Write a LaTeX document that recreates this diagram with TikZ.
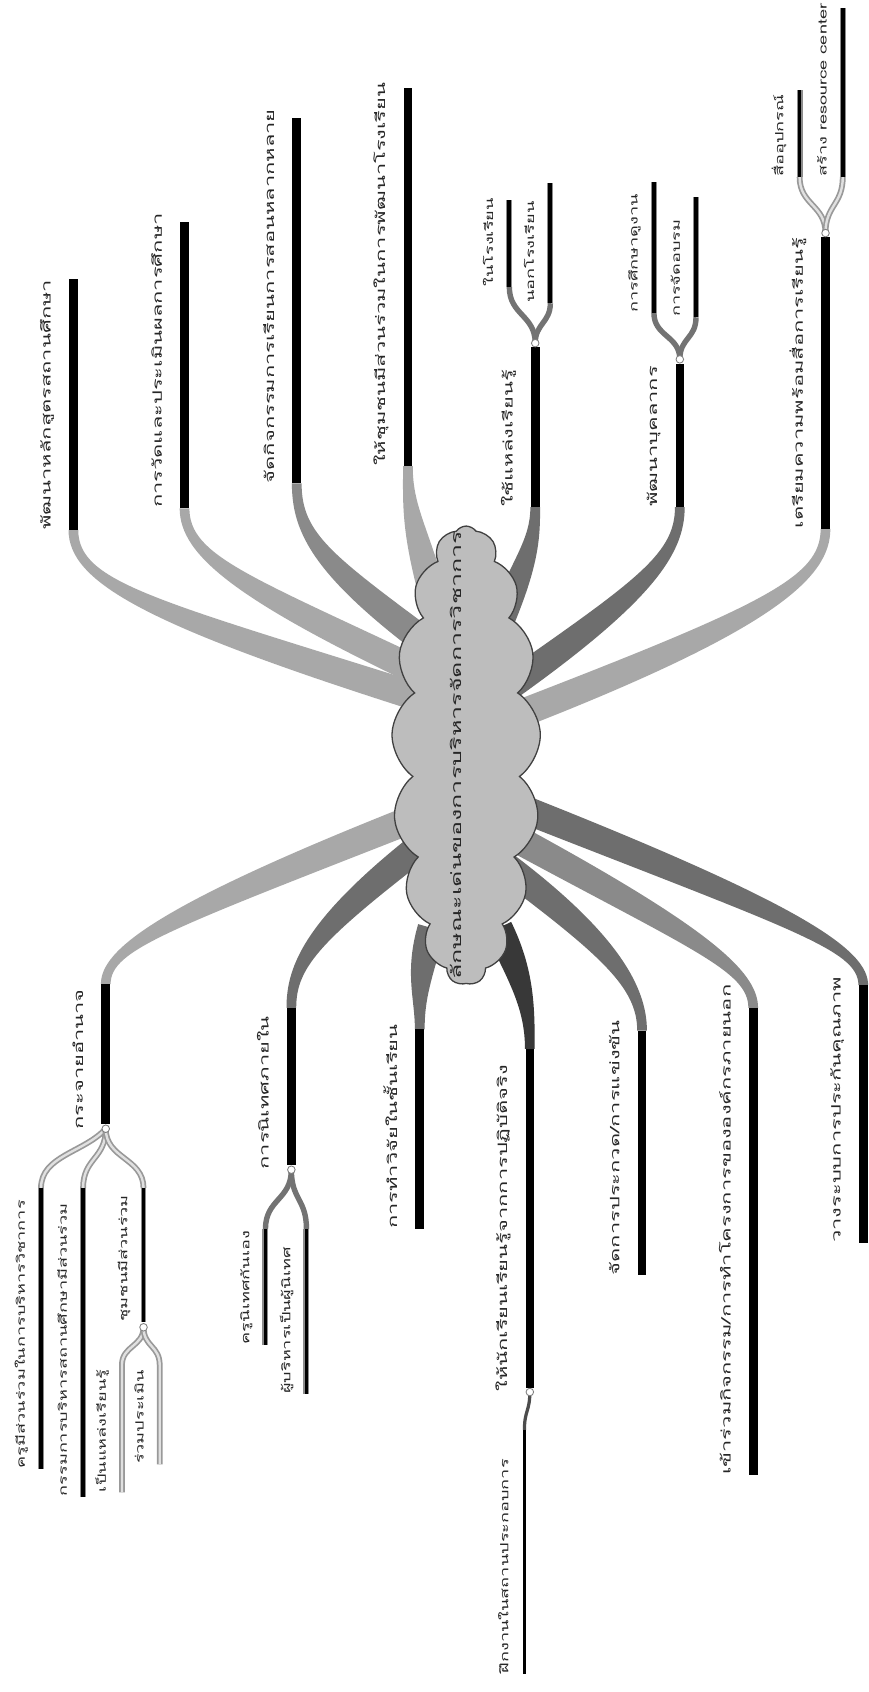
\documentclass[tikz,border=0pt]{standalone}
\usepackage{fontspec}
\newfontfamily\thaifont[Script=Thai]{Loma}
\usetikzlibrary{calc,shapes.symbols}

\definecolor{bandlight}{gray}{0.66}
\definecolor{bandmid}{gray}{0.54}
\definecolor{banddark}{gray}{0.43}
\definecolor{bandblack}{gray}{0.22}
\definecolor{cloudfill}{gray}{0.74}

% tapered band: bar end, control at bar, control at cloud, end in cloud, half width at bar
\newcommand{\branchband}[6]{%
  \fill[#1] ($(#2)+(#6,0)$) .. controls ($#3+(#6,0)$) and ($#4!13pt!90:(#5)$) .. ($(#5)!13pt!-90:#4$)
    -- ($(#5)!13pt!90:#4$) .. controls ($#4!13pt!-90:(#5)$) and ($#3-(#6,0)$) .. ($(#2)-(#6,0)$) -- cycle;}

\begin{document}
\begin{tikzpicture}[x=1pt, y=-1pt]
  \tikzset{
    bar/.style={line width=8pt},
    twig/.style={line width=3.5pt, preaction={draw=black!45, line width=5.5pt}},
    fork/.style={draw=black!55, line width=5pt},
    forklight/.style={draw=black!40, line width=1.6pt, double=black!12, double distance=2.2pt},
    knot/.style={circle, fill=white, draw=black!50, line width=0.8pt, inner sep=0pt, minimum size=7pt},
    lbl/.style={font=\thaifont\fontsize{12}{14}\selectfont, text=black!85, inner sep=0pt, rotate=90, xscale=1.69, anchor=base west},
    sublbl/.style={font=\thaifont\fontsize{10.5}{12}\selectfont, text=black!85, inner sep=0pt, rotate=90, xscale=1.6, anchor=base west},
    titlelbl/.style={font=\thaifont\fontsize{13}{15}\selectfont, text=black!85, inner sep=0pt, rotate=90, xscale=1.79, anchor=base}
  }

  \fill[white] (0,0) rectangle (805,1568);
  \useasboundingbox (0,0) rectangle (805,1568);

  % bar ends next to the cloud, and points inside the cloud
  \coordinate (b1) at (68,491);   \coordinate (k1) at (400,650);
  \coordinate (b2) at (171,471);  \coordinate (k2) at (400,628);
  \coordinate (b3) at (275,448);  \coordinate (k3) at (405,603);
  \coordinate (b4) at (378,432);  \coordinate (k4) at (405,565);
  \coordinate (b5) at (496,470);  \coordinate (k5) at (455,595);
  \coordinate (b6) at (630,470);  \coordinate (k6) at (455,648);
  \coordinate (b7) at (765,490);  \coordinate (k7) at (460,670);
  \coordinate (b8) at (98,912);   \coordinate (k8) at (400,752);
  \coordinate (b9) at (270,934);  \coordinate (k9) at (405,772);
  \coordinate (b10) at (389,954); \coordinate (k10) at (400,860);
  \coordinate (b11) at (491,972); \coordinate (k11) at (462,860);
  \coordinate (b12) at (595,955); \coordinate (k12) at (465,800);
  \coordinate (b13) at (698,934); \coordinate (k13) at (465,770);
  \coordinate (b14) at (800,913); \coordinate (k14) at (465,742);

  \branchband{bandlight}{b1}{(68,540)}{(140,568)}{k1}{4.5}
  \branchband{bandlight}{b2}{(171,515)}{(225,545)}{k2}{4.5}
  \branchband{bandmid}{b3}{(275,495)}{(300,525)}{k3}{4.5}
  \branchband{bandlight}{b4}{(378,470)}{(384,490)}{k4}{4.5}
  \branchband{banddark}{b5}{(496,500)}{(488,522)}{k5}{4.5}
  \branchband{banddark}{b6}{(630,515)}{(595,550)}{k6}{4.5}
  \branchband{bandlight}{b7}{(765,535)}{(715,572)}{k7}{4.5}
  \branchband{bandlight}{b8}{(98,880)}{(150,850)}{k8}{-4.5}
  \branchband{banddark}{b9}{(270,895)}{(290,860)}{k9}{-4.5}
  \branchband{banddark}{b10}{(389,925)}{(387,905)}{k10}{-4.5}
  \branchband{bandblack}{b11}{(491,935)}{(484,905)}{k11}{-4.5}
  \branchband{banddark}{b12}{(595,915)}{(565,875)}{k12}{-4.5}
  \branchband{bandmid}{b13}{(698,900)}{(650,870)}{k13}{-4.5}
  \branchband{banddark}{b14}{(800,880)}{(740,850)}{k14}{-4.5}

  \node[cloud, cloud puffs=17, cloud puff arc=110, cloud ignores aspect, minimum width=138pt, minimum height=425pt, fill=cloudfill, draw=black!75, line width=1.2pt] (core) at (432,700) {};
  \node[titlelbl] (title) at (428,700) {ลักษณะเด่นของการบริหารจัดการวิชาการ};

  % main bars
  \coordinate (e1) at (68,259);   \coordinate (e2) at (171,206);
  \coordinate (e3) at (275,109);  \coordinate (e4) at (378,82);
  \coordinate (e5) at (496,322);  \coordinate (e6) at (630,337);
  \coordinate (e7) at (765,220);  \coordinate (e8) at (98,1042);
  \coordinate (e9) at (270,1080); \coordinate (e10) at (389,1139);
  \coordinate (e11) at (491,1286); \coordinate (e12) at (595,1182);
  \coordinate (e13) at (698,1367); \coordinate (e14) at (800,1152);
  \foreach \i in {1,...,14} {\draw[bar] (b\i) -- (e\i);}

  \node[lbl] (l1) at ($(b1)+(-21,0)$) {พัฒนาหลักสูตรสถานศึกษา};
  \node[lbl] (l2) at ($(b2)+(-21,0)$) {การวัดและประเมินผลการศึกษา};
  \node[lbl] (l3) at ($(b3)+(-21,0)$) {จัดกิจกรรมการเรียนการสอนหลากหลาย};
  \node[lbl] (l4) at ($(b4)+(-21,0)$) {ให้ชุมชนมีส่วนร่วมในการพัฒนาโรงเรียน};
  \node[lbl] (l5) at ($(b5)+(-21,0)$) {ใช้แหล่งเรียนรู้};
  \node[lbl] (l6) at ($(b6)+(-21,0)$) {พัฒนาบุคลากร};
  \node[lbl] (l7) at ($(b7)+(-21,0)$) {เตรียมความพร้อมสื่อการเรียนรู้};
  \node[lbl] (l8) at ($(e8)+(-21,5)$) {กระจายอำนาจ};
  \node[lbl] (l9) at ($(e9)+(-21,4)$) {การนิเทศภายใน};
  \node[lbl] (l10) at ($(e10)+(-21,0)$) {การทำวิจัยในชั้นเรียน};
  \node[lbl] (l11) at ($(e11)+(-21,4)$) {ให้นักเรียนเรียนรู้จากการปฏิบัติจริง};
  \node[lbl] (l12) at ($(e12)+(-21,0)$) {จัดการประกวด/การแข่งขัน};
  \node[lbl] (l13) at ($(e13)+(-21,0)$) {เข้าร่วมกิจกรรม/การทำโครงการขององค์กรภายนอก};
  \node[lbl] (l14) at ($(e14)+(-21,0)$) {วางระบบการประกันคุณภาพ};

  % forks and sub-branches
  \coordinate (f5) at (496,318);
  \coordinate (s51) at (472,266); \coordinate (t51) at (472,185);
  \coordinate (s52) at (510,281); \coordinate (t52) at (510,170);
  \draw[fork] (f5) .. controls ($(f5)+(0,-26)$) and ($(s51)+(0,26)$) .. (s51);
  \draw[fork] (f5) .. controls ($(f5)+(0,-18)$) and ($(s52)+(0,18)$) .. (s52);
  \draw[twig] (s51) -- (t51);
  \draw[twig] (s52) -- (t52);

  \coordinate (f6) at (630,333);
  \coordinate (s61) at (606,290); \coordinate (t61) at (606,169);
  \coordinate (s62) at (645,294); \coordinate (t62) at (645,183);
  \draw[fork] (f6) .. controls ($(f6)+(0,-22)$) and ($(s61)+(0,22)$) .. (s61);
  \draw[fork] (f6) .. controls ($(f6)+(0,-20)$) and ($(s62)+(0,20)$) .. (s62);
  \draw[twig] (s61) -- (t61);
  \draw[twig] (s62) -- (t62);

  \coordinate (f7) at (765,216);
  \coordinate (s71) at (741,164); \coordinate (t71) at (741,83);
  \coordinate (s72) at (781,164); \coordinate (t72) at (781,7);
  \draw[forklight] (f7) .. controls ($(f7)+(0,-26)$) and ($(s71)+(0,26)$) .. (s71);
  \draw[forklight] (f7) .. controls ($(f7)+(0,-26)$) and ($(s72)+(0,26)$) .. (s72);
  \draw[twig] (s71) -- (t71);
  \draw[twig] (s72) -- (t72);

  \coordinate (f8) at (98,1046);
  \coordinate (s81) at (38,1101);  \coordinate (t81) at (38,1361);
  \coordinate (s82) at (77,1101);  \coordinate (t82) at (77,1387);
  \coordinate (s83) at (133,1101); \coordinate (t83) at (133,1225);
  \draw[forklight] (f8) .. controls ($(f8)+(-20,22)$) and ($(s81)+(0,-30)$) .. (s81);
  \draw[forklight] (f8) .. controls ($(f8)+(0,28)$) and ($(s82)+(0,-28)$) .. (s82);
  \draw[forklight] (f8) .. controls ($(f8)+(0,28)$) and ($(s83)+(0,-28)$) .. (s83);
  \draw[twig] (s81) -- (t81);
  \draw[twig] (s82) -- (t82);
  \draw[twig] (s83) -- (t83);

  \coordinate (f83) at (133,1230);
  \coordinate (s831) at (113,1265); \coordinate (t831) at (113,1383);
  \coordinate (s832) at (148,1265); \coordinate (t832) at (148,1357);
  \draw[forklight] (f83) .. controls ($(f83)+(0,18)$) and ($(s831)+(0,-18)$) .. (s831) -- (t831);
  \draw[forklight] (f83) .. controls ($(f83)+(0,18)$) and ($(s832)+(0,-18)$) .. (s832) -- (t832);

  \coordinate (f9) at (270,1084);
  \coordinate (s91) at (246,1139); \coordinate (t91) at (246,1246);
  \coordinate (s92) at (284,1139); \coordinate (t92) at (284,1292);
  \draw[fork] (f9) .. controls ($(f9)+(0,28)$) and ($(s91)+(0,-28)$) .. (s91);
  \draw[fork] (f9) .. controls ($(f9)+(0,28)$) and ($(s92)+(0,-28)$) .. (s92);
  \draw[twig] (s91) -- (t91);
  \draw[twig] (s92) -- (t92);

  \coordinate (f11) at (491,1290);
  \coordinate (s111) at (486,1325); \coordinate (t111) at (486,1551);
  \draw[fork, draw=black!70, line width=3pt] (f11) .. controls ($(f11)+(0,18)$) and ($(s111)+(0,-18)$) .. (s111);
  \draw[line width=2pt] (s111) -- (t111);

  \foreach \f in {f5,f6,f7,f8,f83,f9,f11} {\node[knot] (n\f) at (\f) {};}

  \node[sublbl] (l51) at ($(s51)+(-15,0)$) {ในโรงเรียน};
  \node[sublbl] (l52) at ($(s52)+(-15,0)$) {นอกโรงเรียน};
  \node[sublbl] (l61) at ($(s61)+(-15,0)$) {การศึกษาดูงาน};
  \node[sublbl] (l62) at ($(s62)+(-15,0)$) {การจัดอบรม};
  \node[sublbl] (l71) at ($(s71)+(-15,0)$) {สื่ออุปกรณ์};
  \node[sublbl] (l72) at ($(s72)+(-15,0)$) {สร้าง resource center};
  \node[sublbl] (l81) at ($(t81)+(-15,0)$) {ครูมีส่วนร่วมในการบริหารวิชาการ};
  \node[sublbl] (l82) at ($(t82)+(-15,0)$) {กรรมการบริหารสถานศึกษามีส่วนร่วม};
  \node[sublbl] (l83) at ($(t83)+(-15,0)$) {ชุมชนมีส่วนร่วม};
  \node[sublbl] (l831) at ($(t831)+(-15,0)$) {เป็นแหล่งเรียนรู้};
  \node[sublbl] (l832) at ($(t832)+(-15,0)$) {ร่วมประเมิน};
  \node[sublbl] (l91) at ($(t91)+(-15,0)$) {ครูนิเทศกันเอง};
  \node[sublbl] (l92) at ($(t92)+(-15,0)$) {ผู้บริหารเป็นผู้นิเทศ};
  \node[sublbl] (l111) at ($(t111)+(-15,0)$) {ฝึกงานในสถานประกอบการ};
\end{tikzpicture}
\end{document}
